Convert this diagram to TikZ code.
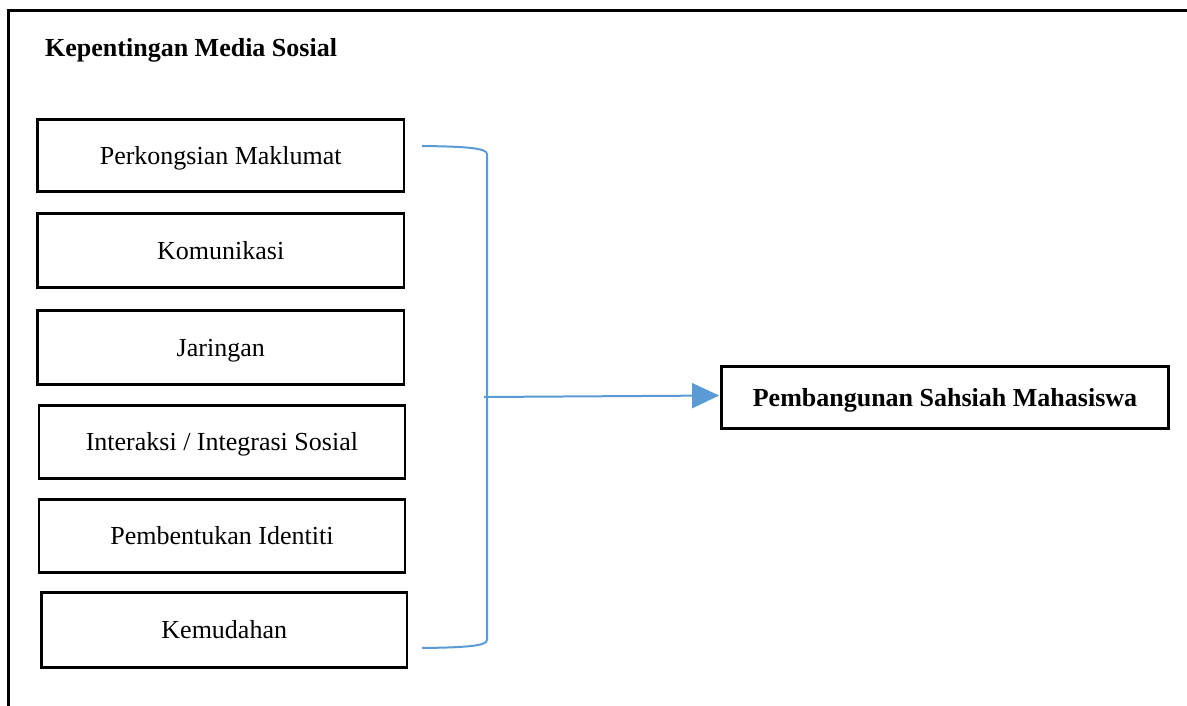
\documentclass[tikz,border=0pt]{standalone}
\usepackage{fontspec}
\setmainfont{Liberation Serif}
\usetikzlibrary{arrows.meta}
\definecolor{lineblue}{RGB}{91,155,213}
\tikzset{
  itembox/.style={draw=black, line width=2.8pt, inner sep=0pt, align=center,
    font=\fontsize{26}{30}\selectfont, text height=17.5pt, text depth=0pt},
  resultbox/.style={itembox, font=\fontsize{26}{30}\selectfont\bfseries},
  bracketline/.style={draw=lineblue, line width=2pt},
  framebar/.style={draw=black, line width=3pt}
}
\begin{document}
\begin{tikzpicture}[x=1pt,y=-1pt]
\useasboundingbox (0,0) rectangle (1187,706);
\draw[framebar] (8.8,706) -- (8.8,10.7) -- (1187,10.7);
\node[anchor=base west, inner sep=0pt, font=\fontsize{26}{30}\selectfont\bfseries] (title) at (45,56.7) {Kepentingan Media Sosial};

\node[itembox, minimum width=366.5pt, minimum height=72pt] (b1) at (220.75,155.5) {Perkongsian Maklumat};
\node[itembox, minimum width=366.5pt, minimum height=74pt] (b2) at (220.75,250.5) {Komunikasi};
\node[itembox, minimum width=366.5pt, minimum height=74pt] (b3) at (220.75,347.5) {Jaringan};
\node[itembox, minimum width=366pt, minimum height=73pt] (b4) at (221.9,442) {Interaksi / Integrasi Sosial};
\node[itembox, minimum width=366pt, minimum height=73pt] (b5) at (221.9,536) {Pembentukan Identiti};
\node[itembox, minimum width=365.5pt, minimum height=75pt] (b6) at (224.25,630) {Kemudahan};

\node[resultbox, minimum width=447pt, minimum height=62pt] (pb) at (945,397.5) {Pembangunan Sahsiah Mahasiswa};

\coordinate (bt) at (422,146);
\coordinate (bb) at (422,648);
\coordinate (bm) at (484,397);
\draw[bracketline] (bt) .. controls (465,146.5) and (487,148) .. (487,154) -- (487,640) .. controls (487,646) and (465,647.5) .. (bb);
\draw[bracketline, -{Triangle[length=27pt,width=25pt]}, shorten >=1pt] (bm) -- ([yshift=2pt]pb.west);
\end{tikzpicture}
\end{document}
